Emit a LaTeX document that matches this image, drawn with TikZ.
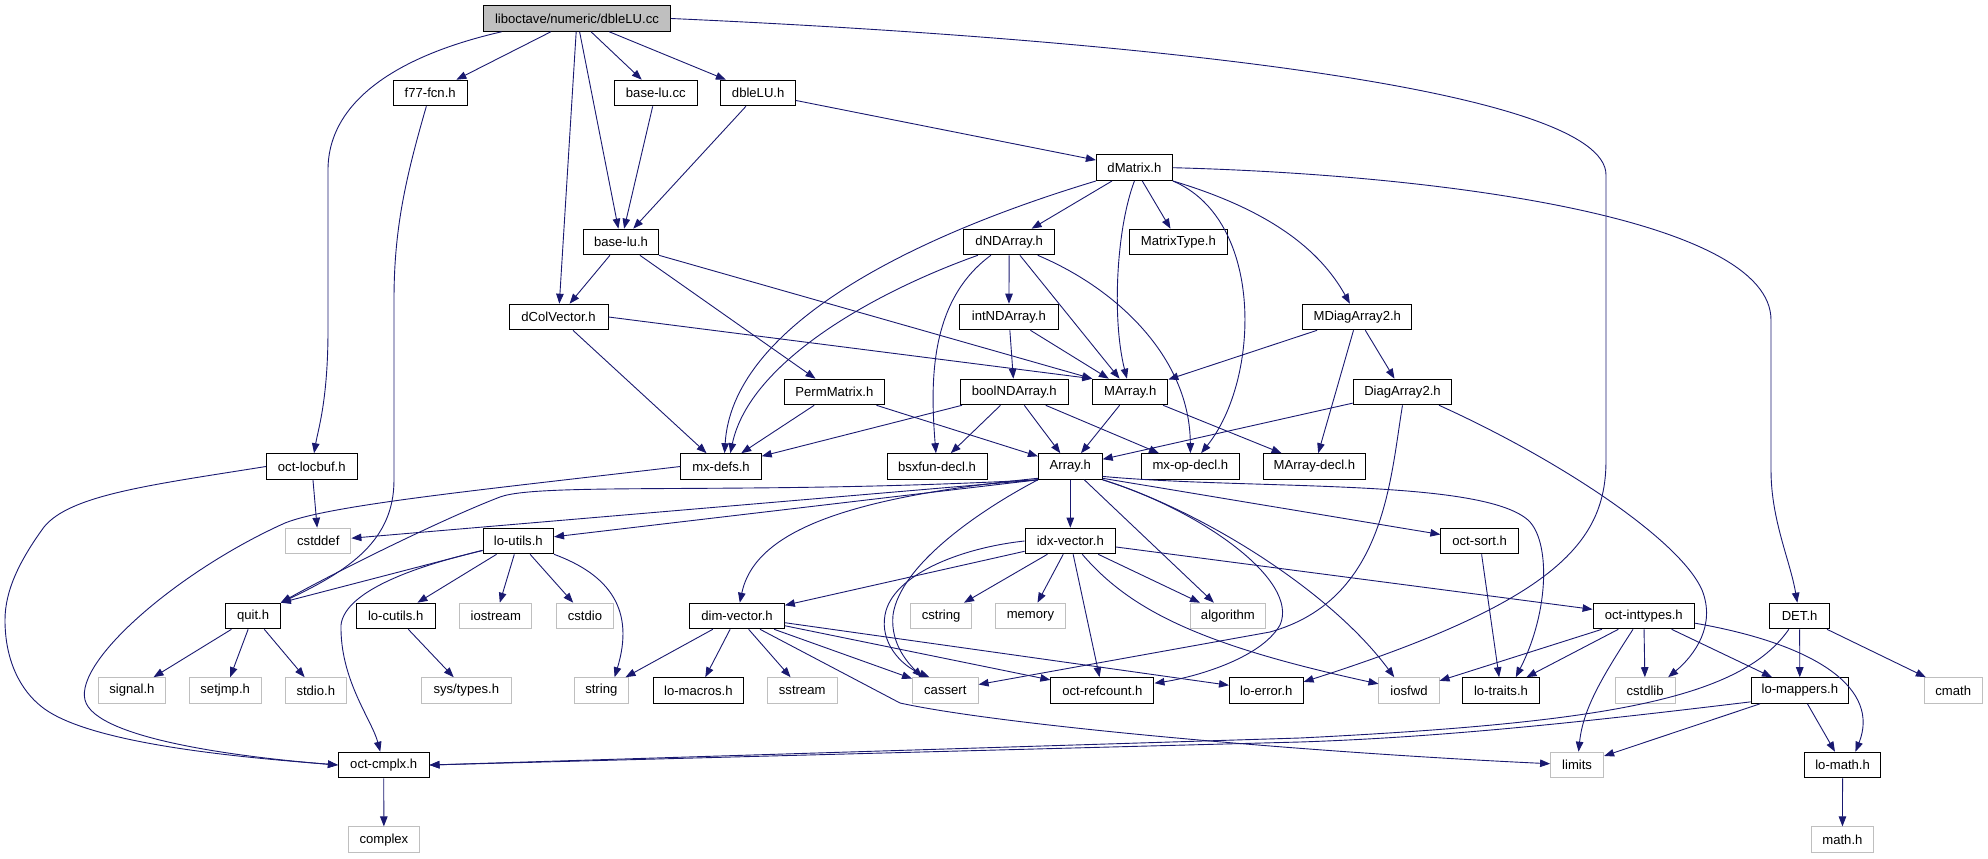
\documentclass[tikz,border=0pt]{standalone}
\usepackage{fontspec}
\setmainfont{Liberation Sans}
\usetikzlibrary{arrows.meta}
\definecolor{edgeblue}{HTML}{191970}
\definecolor{sysgray}{HTML}{BFBFBF}
\begin{document}
\begin{tikzpicture}[x=1bp,y=-1bp,
  box/.style={draw=black, line width=1bp, fill=white, rectangle, inner sep=0pt, minimum height=25.6bp, font=\fontsize{13.1bp}{15bp}\selectfont, text=black},
  sysbox/.style={box, draw=sysgray},
  rootbox/.style={box, fill=sysgray},
  e/.style={draw=edgeblue, line width=0.9bp, -{Triangle[length=10bp,width=7.5bp]}}]
\useasboundingbox (0,0) rectangle (1988,859);
% ---- nodes ----
\node[rootbox, minimum width=187bp] (root) at (577,18.5) {liboctave/numeric/dbleLU.cc};
\node[box, minimum width=73.7bp] (f77) at (430.2,93) {f77-fcn.h};
\node[box, minimum width=83bp] (baselucc) at (655.8,93) {base-lu.cc};
\node[box, minimum width=74.5bp] (dbleLUh) at (758.2,93) {dbleLU.h};
\node[box, minimum width=76bp] (dMatrix) at (1134.4,167.7) {dMatrix.h};
\node[box, minimum width=75bp] (baseluh) at (621,242) {base-lu.h};
\node[box, minimum width=90.7bp] (dNDArray) at (1009.2,242) {dNDArray.h};
\node[box, minimum width=98.7bp] (MatrixType) at (1178.4,242) {MatrixType.h};
\node[box, minimum width=99bp] (dColVector) at (558.5,317) {dColVector.h};
\node[box, minimum width=98.2bp] (intND) at (1008.9,317) {intNDArray.h};
\node[box, minimum width=109.3bp] (MDiag) at (1357.3,317) {MDiagArray2.h};
\node[box, minimum width=100bp] (Perm) at (834.4,392) {PermMatrix.h};
\node[box, minimum width=108bp] (boolND) at (1014.3,392) {boolNDArray.h};
\node[box, minimum width=75bp] (MArray) at (1130.3,392) {MArray.h};
\node[box, minimum width=98.7bp] (DiagArray2) at (1402.5,392) {DiagArray2.h};
\node[box, minimum width=90.6bp] (octlocbuf) at (311.8,466.5) {oct-locbuf.h};
\node[box, minimum width=80.4bp] (mxdefs) at (721,466.5) {mx-defs.h};
\node[box, minimum width=100bp] (bsxfun) at (937,466.5) {bsxfun-decl.h};
\node[box, minimum width=63.8bp] (Array) at (1070.3,466.5) {Array.h};
\node[box, minimum width=97.8bp] (mxop) at (1190.4,466.5) {mx-op-decl.h};
\node[box, minimum width=102.8bp] (MArraydecl) at (1314.4,466.5) {MArray-decl.h};
\node[sysbox, minimum width=65.2bp] (cstddef) at (318.3,541) {cstddef};
\node[box, minimum width=70.5bp] (loutils) at (518.3,541) {lo-utils.h};
\node[box, minimum width=90.6bp] (idxvector) at (1070.3,541) {idx-vector.h};
\node[box, minimum width=77.6bp] (octsort) at (1479.7,541) {oct-sort.h};
\node[box, minimum width=54.4bp] (quit) at (253.1,616) {quit.h};
\node[box, minimum width=79bp] (locutils) at (395.7,616) {lo-cutils.h};
\node[sysbox, minimum width=71.9bp] (iostream) at (495.8,616) {iostream};
\node[sysbox, minimum width=57.6bp] (cstdio) at (585,616) {cstdio};
\node[box, minimum width=94.7bp] (dimvector) at (737,616) {dim-vector.h};
\node[sysbox, minimum width=61.6bp] (cstring) at (941.1,616) {cstring};
\node[sysbox, minimum width=69.7bp] (memory) at (1030.4,616) {memory};
\node[sysbox, minimum width=74.5bp] (algorithm) at (1227.9,616) {algorithm};
\node[box, minimum width=101.4bp] (octinttypes) at (1643.8,616) {oct-inttypes.h};
\node[box, minimum width=60.1bp] (DET) at (1799.6,616) {DET.h};
\node[sysbox, minimum width=66.5bp] (signal) at (131.9,690.5) {signal.h};
\node[sysbox, minimum width=71.9bp] (setjmp) at (225.2,690.5) {setjmp.h};
\node[sysbox, minimum width=61.1bp] (stdio) at (315.8,690.5) {stdio.h};
\node[sysbox, minimum width=90.6bp] (systypes) at (466.3,690.5) {sys/types.h};
\node[sysbox, minimum width=54.4bp] (string) at (601.3,690.5) {string};
\node[box, minimum width=90.6bp] (lomacros) at (698.4,690.5) {lo-macros.h};
\node[sysbox, minimum width=69.6bp] (sstream) at (802.2,690.5) {sstream};
\node[sysbox, minimum width=65.6bp] (cassert) at (945.3,690.5) {cassert};
\node[box, minimum width=103.1bp] (octrefcount) at (1102.4,690.5) {oct-refcount.h};
\node[box, minimum width=73.6bp] (loerror) at (1266.3,690.5) {lo-error.h};
\node[sysbox, minimum width=60.1bp] (iosfwd) at (1409,690.5) {iosfwd};
\node[box, minimum width=76.3bp] (lotraits) at (1501,690.5) {lo-traits.h};
\node[sysbox, minimum width=60.2bp] (cstdlib) at (1645.1,690.5) {cstdlib};
\node[box, minimum width=97.4bp] (lomappers) at (1799.8,690.5) {lo-mappers.h};
\node[sysbox, minimum width=58.3bp] (cmath) at (1953.2,690.5) {cmath};
\node[box, minimum width=90.6bp] (octcmplx) at (383.7,765) {oct-cmplx.h};
\node[sysbox, minimum width=53bp] (limits) at (1577.1,765) {limits};
\node[box, minimum width=75.9bp] (lomath) at (1842.6,765) {lo-math.h};
\node[sysbox, minimum width=70.5bp] (complex) at (383.9,839.7) {complex};
\node[sysbox, minimum width=62.3bp] (mathh) at (1842.4,839.7) {math.h};
% ---- edges from root ----
\draw[e] (root.190) .. controls (400,55) and (328,100) .. (328,170) -- (328,330) .. controls (328,400) and (318,430) .. (octlocbuf);
\draw[e] (root) -- (f77);
\draw[e] (root) -- (dColVector);
\draw[e] (root) -- (baseluh);
\draw[e] (root) -- (baselucc);
\draw[e] (root) -- (dbleLUh);
\draw[e] (root.east) .. controls (1150,40) and (1606,90) .. (1606,175) -- (1606,460) .. controls (1606,540) and (1560,600) .. (loerror.13);
% ---- second level ----
\draw[e] (f77) .. controls (405,180) and (394,230) .. (394,300) -- (394,480) .. controls (394,540) and (350,570) .. (quit.north east);
\draw[e] (baselucc) -- (baseluh);
\draw[e] (dbleLUh) -- (baseluh);
\draw[e] (dbleLUh) -- (dMatrix);
\draw[e] (baseluh) -- (dColVector);
\draw[e] (baseluh) -- (Perm);
\draw[e] (baseluh.south east) -- (MArray.north west);
% ---- dMatrix ----
\draw[e] (dMatrix.south west) .. controls (900,240) and (732,330) .. (mxdefs.75);
\draw[e] (dMatrix) -- (dNDArray);
\draw[e] (dMatrix.south) .. controls (1116,230) and (1112,320) .. (MArray);
\draw[e] (dMatrix) -- (MatrixType);
\draw[e] (dMatrix.south east) .. controls (1265,220) and (1260,380) .. (mxop);
\draw[e] (dMatrix.south east) .. controls (1270,210) and (1320,250) .. (MDiag);
\draw[e] (dMatrix.east) .. controls (1450,175) and (1771,220) .. (1771,320) -- (1771,470) .. controls (1771,520) and (1790,560) .. (DET);
% ---- dNDArray ----
\draw[e] (dNDArray) -- (intND);
\draw[e] (dNDArray) -- (MArray);
\draw[e] (dNDArray.-25) .. controls (1120,290) and (1190,360) .. (mxop);
\draw[e] (dNDArray.-144) .. controls (930,300) and (930,380) .. (bsxfun);
\draw[e] (dNDArray.-157) .. controls (880,290) and (750,360) .. (mxdefs.55);
% ---- dColVector, intND, MDiag ----
\draw[e] (dColVector.east) -- (MArray.north west);
\draw[e] (dColVector) -- (mxdefs);
\draw[e] (intND) -- (boolND);
\draw[e] (intND) -- (MArray);
\draw[e] (MDiag) -- (MArray);
\draw[e] (MDiag) -- (DiagArray2);
\draw[e] (MDiag) -- (MArraydecl);
% ---- row 6 ----
\draw[e] (Perm) -- (mxdefs);
\draw[e] (Perm) -- (Array);
\draw[e] (boolND) -- (mxdefs);
\draw[e] (boolND) -- (bsxfun);
\draw[e] (boolND) -- (Array);
\draw[e] (boolND) -- (mxop);
\draw[e] (MArray) -- (Array);
\draw[e] (MArray) -- (MArraydecl);
\draw[e] (DiagArray2) -- (Array);
\draw[e] (DiagArray2.south) .. controls (1390,480) and (1385,600) .. (1270,632) -- (cassert);
\draw[e] (DiagArray2.-20) .. controls (1560,460) and (1680,540) .. (1702,590) .. controls (1716,625) and (1695,655) .. (cstdlib.30);
% ---- row 7 ----
\draw[e] (octlocbuf) -- (cstddef);
\draw[e] (octlocbuf.west) .. controls (150,485) and (70,495) .. (44,527) .. controls (20,560) and (5,590) .. (5,620) .. controls (5,660) and (20,690) .. (42,707) .. controls (90,745) and (250,758) .. (octcmplx.west);
\draw[e] (mxdefs.west) .. controls (480,490) and (330,505) .. (285,523) .. controls (180,570) and (75,660) .. (85,700) .. controls (95,740) and (250,758) .. (octcmplx.west);
% ---- Array ----
\draw[e] (Array.south west) -- (cstddef);
\draw[e] (Array.south west) -- (loutils);
\draw[e] (Array.south west) .. controls (750,495) and (540,482) .. (500,497) .. controls (440,520) and (330,575) .. (quit.north east);
\draw[e] (Array.200) .. controls (850,497) and (755,530) .. (dimvector);
\draw[e] (Array) -- (idxvector);
\draw[e] (Array.south west) .. controls (980,510) and (900,565) .. (893,615) .. controls (890,645) and (910,665) .. (cassert.150);
\draw[e] (Array) -- (algorithm);
\draw[e] (Array.south east) .. controls (1200,510) and (1300,580) .. (1280,625) .. controls (1260,660) and (1190,678) .. (octrefcount.8);
\draw[e] (Array.south east) .. controls (1200,510) and (1330,590) .. (iosfwd.138);
\draw[e] (Array.-20) -- (octsort);
\draw[e] (Array.-17) .. controls (1250,490) and (1480,478) .. (1528,520) .. controls (1550,540) and (1550,610) .. (lotraits.42);
% ---- lo-utils ----
\draw[e] (loutils) -- (quit.north east);
\draw[e] (loutils.195) .. controls (420,565) and (345,590) .. (341,625) .. controls (340,680) and (372,720) .. (octcmplx);
\draw[e] (loutils) -- (locutils);
\draw[e] (loutils) -- (iostream);
\draw[e] (loutils) -- (cstdio);
\draw[e] (loutils.south east) .. controls (610,575) and (635,610) .. (string.45);
% ---- idx-vector ----
\draw[e] (idxvector) -- (dimvector);
\draw[e] (idxvector.west) .. controls (960,548) and (892,575) .. (885,615) .. controls (880,642) and (900,665) .. (cassert.140);
\draw[e] (idxvector) -- (cstring);
\draw[e] (idxvector) -- (memory);
\draw[e] (idxvector) -- (algorithm);
\draw[e] (idxvector) -- (octrefcount);
\draw[e] (idxvector.-48) .. controls (1130,610) and (1200,645) .. (iosfwd);
\draw[e] (idxvector) -- (octinttypes);
% ---- row 9 ----
\draw[e] (quit) -- (signal);
\draw[e] (quit) -- (setjmp);
\draw[e] (quit) -- (stdio);
\draw[e] (locutils) -- (systypes);
\draw[e] (dimvector) -- (string);
\draw[e] (dimvector) -- (lomacros);
\draw[e] (dimvector) -- (sstream);
\draw[e] (dimvector) -- (cassert);
\draw[e] (dimvector) -- (octrefcount);
\draw[e] (dimvector) -- (loerror);
\draw[e] (dimvector.-30) -- (900,703) .. controls (1000,725) and (1300,752) .. (limits);
\draw[e] (octsort) -- (lotraits);
\draw[e] (octinttypes) -- (iosfwd);
\draw[e] (octinttypes) -- (lotraits);
\draw[e] (octinttypes.-129) .. controls (1600,680) and (1583,710) .. (limits);
\draw[e] (octinttypes) -- (cstdlib);
\draw[e] (octinttypes) -- (lomappers);
\draw[e] (octinttypes.-8) .. controls (1820,645) and (1880,690) .. (lomath.46);
\draw[e] (DET.-129) .. controls (1740,700) and (1600,723) .. (1300,738) -- (octcmplx.east);
\draw[e] (DET) -- (lomappers);
\draw[e] (DET) -- (cmath);
% ---- row 10 ----
\draw[e] (lomappers.193) .. controls (1600,720) and (1450,737) .. (1300,742) -- (octcmplx.east);
\draw[e] (lomappers) -- (limits);
\draw[e] (lomappers) -- (lomath);
\draw[e] (lomath) -- (mathh);
\draw[e] (octcmplx) -- (complex);
\end{tikzpicture}
\end{document}
